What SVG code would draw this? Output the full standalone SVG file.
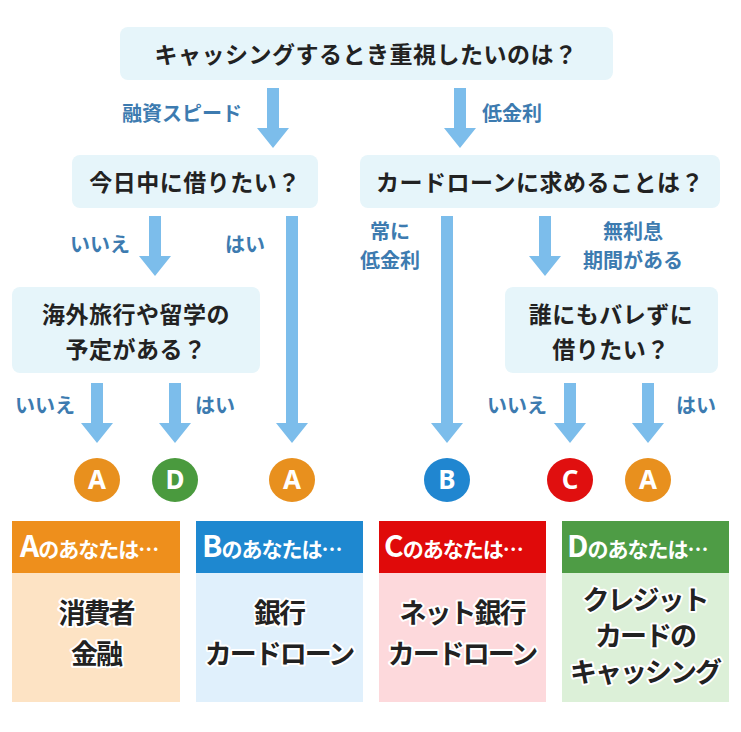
<svg xmlns="http://www.w3.org/2000/svg" width="741" height="732" viewBox="0 0 741 732">
<defs><style>
.q{fill:#e6f5fa}
.qt{font-family:"Noto Sans CJK JP","Noto Sans",sans-serif;font-weight:bold;font-size:23px;fill:#222;text-anchor:middle;letter-spacing:0.5px}
.lb{font-family:"Noto Sans CJK JP","Noto Sans",sans-serif;font-weight:bold;font-size:20px;fill:#3d7bb0;text-anchor:middle}
.ar{fill:#7cbdeb}
.ct{font-family:"Noto Sans",sans-serif;font-weight:bold;font-size:26px;fill:#fff;text-anchor:middle}
.ht{font-family:"Noto Sans CJK JP","Noto Sans",sans-serif;font-weight:bold;font-size:21px;fill:#fff;letter-spacing:-1px}
.hl{font-size:30px}
.bt{font-family:"Noto Sans CJK JP","Noto Sans",sans-serif;font-weight:bold;font-size:27px;fill:#222;text-anchor:middle;stroke:#fff;stroke-width:4;paint-order:stroke;stroke-linejoin:round;letter-spacing:-2px}
</style></defs>
<g id="q1"><rect class="q" x="120" y="27" width="493" height="53" rx="8"/><text class="qt" x="366" y="63">キャッシングするとき重視したいのは？</text></g>
<g id="q2"><rect class="q" x="72" y="155" width="246" height="53" rx="8"/><text class="qt" x="195" y="191">今日中に借りたい？</text></g>
<g id="q3"><rect class="q" x="360" y="155" width="360" height="53" rx="8"/><text class="qt" x="540" y="191">カードローンに求めることは？</text></g>
<g id="q4"><rect class="q" x="12" y="287" width="248" height="86" rx="8"/><text class="qt" x="136" y="323">海外旅行や留学の</text><text class="qt" x="136" y="358">予定がある？</text></g>
<g id="q5"><rect class="q" x="505" y="287" width="213" height="86" rx="8"/><text class="qt" x="611" y="323">誰にもバレずに</text><text class="qt" x="611" y="358">借りたい？</text></g>
<g id="connectors">
<path class="ar" d="M267 88h12v40h10l-16 20l-16-20h10z"/>
<path class="ar" d="M454 88h12v40h10l-16 20l-16-20h10z"/>
<path class="ar" d="M149 216h12v40h10l-16 20l-16-20h10z"/>
<path class="ar" d="M286 216h12v207h10l-16 20l-16-20h10z"/>
<path class="ar" d="M441 216h12v207h10l-16 20l-16-20h10z"/>
<path class="ar" d="M539 216h12v40h10l-16 20l-16-20h10z"/>
<path class="ar" d="M91 383h12v40h10l-16 20l-16-20h10z"/>
<path class="ar" d="M169 383h12v40h10l-16 20l-16-20h10z"/>
<path class="ar" d="M564 383h12v40h10l-16 20l-16-20h10z"/>
<path class="ar" d="M642 383h12v40h10l-16 20l-16-20h10z"/>
<text class="lb" x="182" y="121">融資スピード</text>
<text class="lb" x="512" y="121">低金利</text>
<text class="lb" x="100" y="252">いいえ</text>
<text class="lb" x="245" y="252">はい</text>
<text class="lb" x="390" y="239">常に</text>
<text class="lb" x="390" y="268">低金利</text>
<text class="lb" x="633" y="239">無利息</text>
<text class="lb" x="633" y="268">期間がある</text>
<text class="lb" x="45" y="413">いいえ</text>
<text class="lb" x="215" y="413">はい</text>
<text class="lb" x="517" y="413">いいえ</text>
<text class="lb" x="696" y="413">はい</text>
</g>
<g id="c1"><ellipse cx="97" cy="480" rx="23" ry="22" fill="#e8901e"/><text class="ct" x="97" y="489">A</text></g>
<g id="c2"><ellipse cx="175" cy="480" rx="23" ry="22" fill="#4a9a3e"/><text class="ct" x="175" y="489">D</text></g>
<g id="c3"><ellipse cx="292" cy="480" rx="23" ry="22" fill="#e8901e"/><text class="ct" x="292" y="489">A</text></g>
<g id="c4"><ellipse cx="447" cy="480" rx="23" ry="22" fill="#2086d0"/><text class="ct" x="447" y="489">B</text></g>
<g id="c5"><ellipse cx="570" cy="480" rx="23" ry="22" fill="#e00f0f"/><text class="ct" x="570" y="489">C</text></g>
<g id="c6"><ellipse cx="648" cy="480" rx="23" ry="22" fill="#e8901e"/><text class="ct" x="648" y="489">A</text></g>
<g id="cardA"><rect x="12" y="521" width="168" height="181" fill="#fde3c4"/><rect x="12" y="521" width="168" height="52" fill="#ee8f1c"/><text class="ht" x="20" y="557"><tspan class="hl">A</tspan>のあなたは…</text><text class="bt" x="96" y="623">消費者</text><text class="bt" x="96" y="664">金融</text></g>
<g id="cardB"><rect x="196" y="521" width="167" height="181" fill="#e0f0fc"/><rect x="196" y="521" width="167" height="52" fill="#1e88d0"/><text class="ht" x="202" y="557"><tspan class="hl">B</tspan>のあなたは…</text><text class="bt" x="279" y="623">銀行</text><text class="bt" x="279" y="664">カードローン</text></g>
<g id="cardC"><rect x="379" y="521" width="167" height="181" fill="#fdd9dc"/><rect x="379" y="521" width="167" height="52" fill="#e00a0a"/><text class="ht" x="384" y="557"><tspan class="hl">C</tspan>のあなたは…</text><text class="bt" x="462" y="623">ネット銀行</text><text class="bt" x="462" y="664">カードローン</text></g>
<g id="cardD"><rect x="562" y="521" width="167" height="181" fill="#dcf0d8"/><rect x="562" y="521" width="167" height="52" fill="#4e9c45"/><text class="ht" x="567" y="557"><tspan class="hl">D</tspan>のあなたは…</text><text class="bt" x="645" y="610">クレジット</text><text class="bt" x="645" y="646">カードの</text><text class="bt" x="645" y="682">キャッシング</text></g>
</svg>
